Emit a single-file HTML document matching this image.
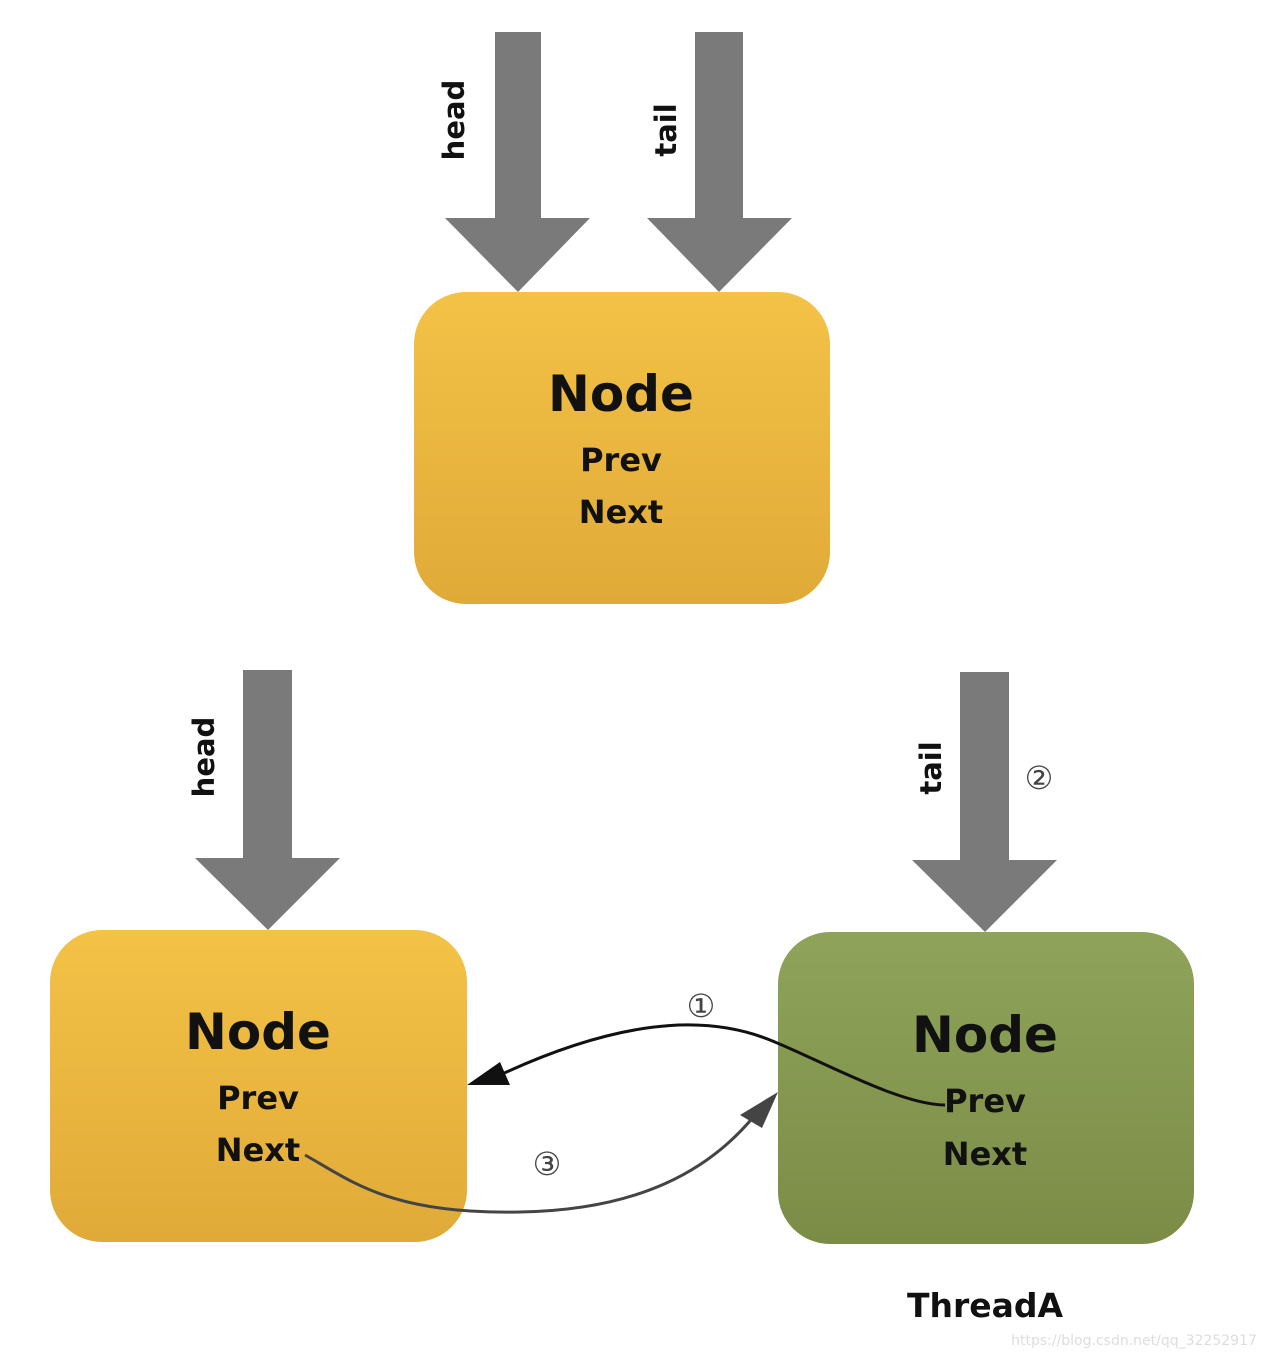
<!DOCTYPE html>
<html><head><style>
html,body{margin:0;padding:0;background:#fff;}
svg{display:block;}
text{font-family:"DejaVu Sans","Liberation Sans",sans-serif;font-weight:bold;fill:#111;text-anchor:middle;}
.c{font-family:"Liberation Serif","DejaVu Serif",serif;font-weight:normal;fill:#444;}
</style></head><body>
<svg width="1266" height="1358" viewBox="0 0 1266 1358" xmlns="http://www.w3.org/2000/svg">
<defs>
<linearGradient id="yg" x1="0" y1="0" x2="0" y2="1"><stop offset="0" stop-color="#f3c246"/><stop offset="1" stop-color="#e0aa38"/></linearGradient>
<linearGradient id="gg" x1="0" y1="0" x2="0" y2="1"><stop offset="0" stop-color="#8fa35a"/><stop offset="1" stop-color="#7b8c46"/></linearGradient>
</defs>
<polygon points="495,32 541,32 541,218 590,218 518,292 445,218 495,218" fill="#7a7a7a"/>
<polygon points="695,32 743,32 743,218 792,218 719,292 647,218 695,218" fill="#7a7a7a"/>
<text transform="translate(464,120) rotate(-90)" font-size="29">head</text>
<text transform="translate(676,130) rotate(-90)" font-size="29">tail</text>
<rect x="414" y="292" width="416" height="312" rx="52" fill="url(#yg)"/>
<text x="621" y="411" font-size="50">Node</text>
<text x="621" y="471" font-size="32">Prev</text>
<text x="621" y="523" font-size="32">Next</text>
<polygon points="243,670 292,670 292,858 340,858 268,930 195,858 243,858" fill="#7a7a7a"/>
<text transform="translate(214,757) rotate(-90)" font-size="29">head</text>
<rect x="50" y="930" width="417" height="312" rx="52" fill="url(#yg)"/>
<text x="258" y="1049" font-size="50">Node</text>
<text x="258" y="1109" font-size="32">Prev</text>
<text x="258" y="1161" font-size="32">Next</text>
<polygon points="960,672 1009,672 1009,860 1057,860 985,932 912,860 960,860" fill="#7a7a7a"/>
<text transform="translate(941,768) rotate(-90)" font-size="29">tail</text>
<text class="c" x="1039" y="789" font-size="32">②</text>
<rect x="778" y="932" width="416" height="312" rx="52" fill="url(#gg)"/>
<text x="985" y="1052" font-size="50">Node</text>
<text x="985" y="1112" font-size="32">Prev</text>
<text x="985" y="1165" font-size="32">Next</text>
<text x="985" y="1317" font-size="33">ThreadA</text>
<path d="M945,1105 C900,1105 820,1060 770,1040 C720,1020 640,1010 500,1075" fill="none" stroke="#111" stroke-width="3"/>
<polygon points="467,1085 500,1062 510,1085" fill="#111"/>
<text class="c" x="701" y="1017" font-size="32">①</text>
<path d="M305,1155 C350,1180 390,1215 520,1212 C640,1210 710,1170 755,1115" fill="none" stroke="#444" stroke-width="3"/>
<polygon points="778,1092 740,1115 762,1128" fill="#444"/>
<text class="c" x="547" y="1175" font-size="32">③</text>
<text x="1134" y="1345" font-size="14" style="font-weight:normal;fill:#ddd">https://blog.csdn.net/qq_32252917</text>
</svg>
</body></html>
